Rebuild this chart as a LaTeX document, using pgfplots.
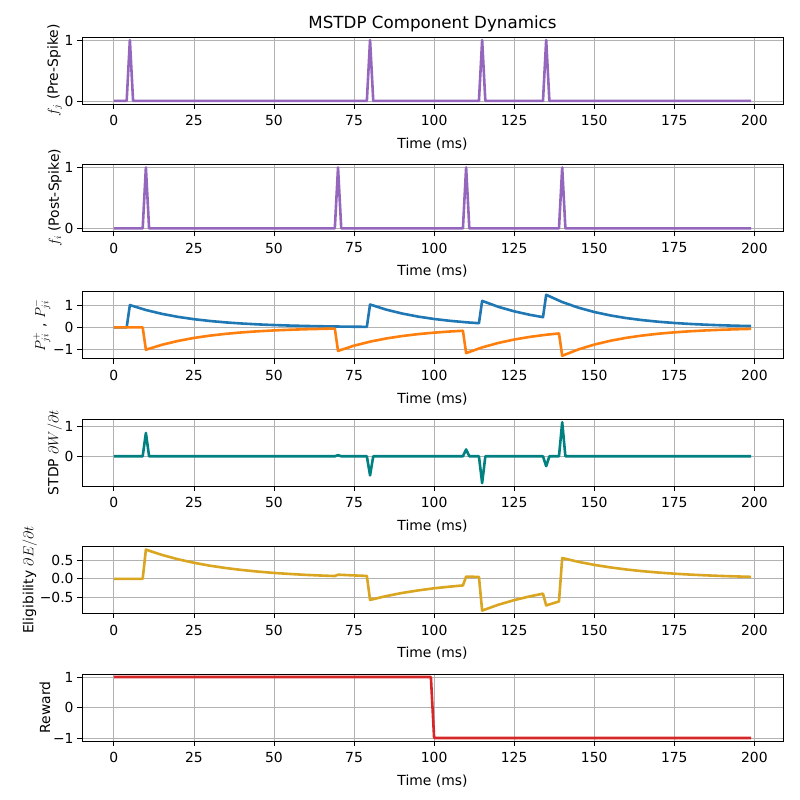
\documentclass[border=0pt]{standalone}
\usepackage{pgfplots}
\pgfplotsset{compat=1.18}
\usepackage{fontspec}
\setmainfont{DejaVu Sans}
\definecolor{cpur}{HTML}{9467BD}
\definecolor{cblu}{HTML}{1F77B4}
\definecolor{cora}{HTML}{FF7F0E}
\definecolor{cteal}{HTML}{008080}
\definecolor{cgold}{HTML}{DAA520}
\definecolor{cred}{HTML}{D62728}
\pgfplotsset{
  every axis/.style={
    scale only axis, width=701pt, height=67pt, anchor=south west,
    xmin=-9.95, xmax=208.95,
    xtick={0,25,...,200},
    xtick pos=bottom, ytick pos=left,
    grid=major, major grid style={gray!60, line width=0.8pt},
    tick align=outside, major tick length=4.9pt,
    tick style={black, line width=0.8pt},
    axis line style={line width=0.8pt},
    xlabel={Time (ms)},
    /pgf/number format/assume math mode=true,
    ticklabel style={font=\fontsize{13.9}{16}\selectfont},
    xticklabel style={yshift=-3pt},
    label style={font=\fontsize{13.9}{16}\selectfont},
    xlabel style={yshift=-5pt},
    ylabel style={yshift=-4pt},
    every axis plot/.append style={line width=2.6pt, line join=round, no marks},
  }
}
\begin{document}
\begin{tikzpicture}
\begin{axis}[at={(82pt,696pt)}, ymin=-0.05, ymax=1.05, ytick={0,1},
  ylabel={$f_j$ (Pre-Spike)},
  title={MSTDP Component Dynamics}, title style={font=\fontsize{16.7}{19}\selectfont, yshift=-5pt}]
\addplot[cpur] coordinates {(0,0)(4,0)(5,1)(6,0)(79,0)(80,1)(81,0)(114,0)(115,1)(116,0)(134,0)(135,1)(136,0)(199,0)};
\end{axis}
\begin{axis}[at={(82pt,568.6pt)}, ymin=-0.05, ymax=1.05, ytick={0,1},
  ylabel={$f_i$ (Post-Spike)}]
\addplot[cpur] coordinates {(0,0)(9,0)(10,1)(11,0)(69,0)(70,1)(71,0)(109,0)(110,1)(111,0)(139,0)(140,1)(141,0)(199,0)};
\end{axis}
\begin{axis}[at={(82pt,441.2pt)}, ymin=-1.406, ymax=1.595, ytick={-1,0,1}, yticklabels={−1,0,1},
  ylabel={$P^+_{ji}$ , $P^-_{ji}$}]
\addplot[cblu] coordinates {(0,0)(4,0)(5,1)(10,.779)(15,.607)(20,.472)(25,.368)(30,.287)(35,.223)(40,.174)(45,.135)(50,.105)(55,.082)(60,.064)(65,.050)(70,.039)(75,.030)(79,.025)
(80,1.025)(85,.798)(90,.622)(95,.484)(100,.377)(105,.294)(110,.229)(114,.187)
(115,1.187)(120,.924)(125,.720)(130,.561)(134,.459)
(135,1.459)(140,1.136)(145,.886)(150,.690)(155,.537)(160,.418)(165,.326)(170,.254)(175,.198)(180,.154)(185,.120)(190,.093)(195,.073)(199,.060)};
\addplot[cora] coordinates {(0,0)(9,0)(10,-1)(15,-.779)(20,-.607)(25,-.472)(30,-.368)(35,-.287)(40,-.223)(45,-.174)(50,-.135)(55,-.105)(60,-.082)(65,-.064)(69,-.052)
(70,-1.052)(75,-.819)(80,-.638)(85,-.497)(90,-.387)(95,-.301)(100,-.235)(105,-.183)(109,-.150)
(110,-1.150)(115,-.896)(120,-.698)(125,-.543)(130,-.423)(135,-.329)(139,-.270)
(140,-1.270)(145,-.989)(150,-.770)(155,-.600)(160,-.467)(165,-.364)(170,-.283)(175,-.221)(180,-.172)(185,-.134)(190,-.104)(195,-.081)(199,-.066)};
\end{axis}
\begin{axis}[at={(82pt,313.8pt)}, ymin=-0.998, ymax=1.238, ytick={0,1},
  ylabel={STDP $\partial W/\partial t$}]
\addplot[cteal] coordinates {(0,0)(9,0)(10,.779)(11,0)(69,0)(70,.039)(71,0)(79,0)(80,-.638)(81,0)(109,0)(110,.229)(111,0)(114,0)(115,-.896)(116,0)(134,0)(135,-.329)(136,0)(139,0)(140,1.136)(141,0)(199,0)};
\end{axis}
\begin{axis}[at={(82pt,186.4pt)}, ymin=-0.929, ymax=0.860, ytick={-0.5,0,0.5}, yticklabels={−0.5,0.0,0.5},
  ylabel={Eligibility $\partial E/\partial t$}]
\addplot[cgold] coordinates {(0,0)(9,0)(10,.779)(15,.638)(20,.522)(25,.428)(30,.350)(35,.287)(40,.235)(45,.192)(50,.157)(55,.129)(60,.105)(65,.086)(69,.074)
(70,.110)(75,.090)(79,.077)(80,-.564)(85,-.462)(90,-.378)(95,-.310)(100,-.253)(105,-.208)(109,-.177)
(110,.059)(114,.050)(115,-.848)(120,-.694)(125,-.569)(130,-.466)(134,-.397)(135,-.710)(139,-.605)
(140,.555)(145,.454)(150,.372)(155,.305)(160,.249)(165,.204)(170,.167)(175,.137)(180,.112)(185,.092)(190,.075)(195,.062)(199,.052)};
\end{axis}
\begin{axis}[at={(82pt,59pt)}, ymin=-1.1, ymax=1.1, ytick={-1,0,1}, yticklabels={−1,0,1},
  ylabel={Reward}]
\addplot[cred] coordinates {(0,1)(99,1)(100,-1)(199,-1)};
\end{axis}
\pgfresetboundingbox
\path (0,0) rectangle (800pt,800pt);
\end{tikzpicture}
\end{document}
